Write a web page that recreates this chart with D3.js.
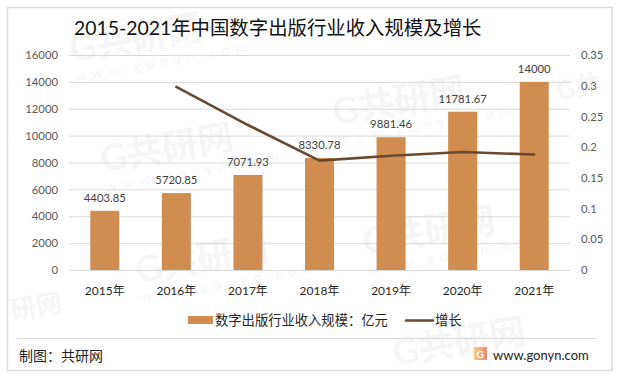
<!DOCTYPE html>
<html>
<head>
<meta charset="utf-8">
<script src="https://cdn.jsdelivr.net/npm/d3@7/dist/d3.min.js"></script>
<style>
html, body { margin: 0; padding: 0; background: #fff; }
svg { display: block; }
text { font-family: Lato, "Noto Sans CJK SC", sans-serif; }
</style>
</head>
<body>
<div id="chart"></div>
<script>
const years = ["2015年", "2016年", "2017年", "2018年", "2019年", "2020年", "2021年"];
const revenue = [4403.85, 5720.85, 7071.93, 8330.78, 9881.46, 11781.67, 14000];
const revenueLabels = ["4403.85", "5720.85", "7071.93", "8330.78", "9881.46", "11781.67", "14000"];
const growth = [null, 0.298, 0.236, 0.178, 0.186, 0.192, 0.188];
const leftTicks = [0, 2000, 4000, 6000, 8000, 10000, 12000, 14000, 16000];
const rightTicks = [0, 0.05, 0.1, 0.15, 0.2, 0.25, 0.3, 0.35];

const barColor = "#d18c4f";
const lineColor = "#69492f";
const gridColor = "#d9d9d9";

const margin = { top: 55, right: 49, bottom: 105, left: 69 },
      width = 619 - margin.left - margin.right,
      height = 375 - margin.top - margin.bottom;

const root = d3.select("#chart")
  .append("svg")
  .attr("width", 619)
  .attr("height", 375);

// outer frame
root.append("rect")
  .attr("x", 7.5).attr("y", 7.5)
  .attr("width", 604.5).attr("height", 363)
  .attr("fill", "#fff")
  .attr("stroke", "#dcdcdc")
  .attr("stroke-width", 1.5);

// watermarks
const marks = [[72, 62, "G共研网"], [103, 172, "G共研网"], [335, 125, "G共研网"], [138, 283, "G共研网"], [365, 255, "G共研网"]];
const wm = root.append("g").attr("fill", "#f5f5f5");
marks.forEach(([mx, my, label]) => {
  const g = wm.append("g").attr("transform", `translate(${mx},${my}) rotate(-10)`);
  g.append("text").attr("font-size", 36).attr("font-weight", 700).text(label);
  g.append("text").attr("y", 20).attr("font-size", 14).attr("letter-spacing", 6).text("www.gonyn.com");
});
// partly hidden marks near the frame
const edgeMarks = [[12, 320, "研网"], [558, 100, "G共"], [395, 366, "G共研网"]];
edgeMarks.forEach(([mx, my, label]) => {
  wm.append("text")
    .attr("transform", `translate(${mx},${my}) rotate(-10)`)
    .attr("font-size", label.length > 2 ? 36 : 26)
    .attr("font-weight", 700)
    .text(label);
});

const svg = root.append("g").attr("transform", `translate(${margin.left},${margin.top})`);

const x = d3.scaleBand().domain(years).range([0, width]);
const y = d3.scaleLinear().domain([0, 16000]).range([height, 0]);
const y2 = d3.scaleLinear().domain([0, 0.35]).range([height, 0]);

// gridlines
svg.append("g")
  .selectAll("line")
  .data(leftTicks)
  .join("line")
  .attr("x1", 0).attr("x2", width)
  .attr("y1", d => y(d) + 0.5).attr("y2", d => y(d) + 0.5)
  .attr("stroke", gridColor);

const yAxis = svg.append("g")
  .call(d3.axisLeft(y).tickValues(leftTicks).tickSize(0).tickPadding(11).tickFormat(d3.format("d")));
yAxis.select(".domain").remove();
yAxis.selectAll("text").attr("font-size", 11.3).attr("fill", "#595959");

const yAxisRight = svg.append("g")
  .attr("transform", `translate(${width},0)`)
  .call(d3.axisRight(y2).tickValues(rightTicks).tickSize(0).tickPadding(11).tickFormat(d => String(d)));
yAxisRight.select(".domain").remove();
yAxisRight.selectAll("text").attr("font-size", 11.3).attr("fill", "#595959");

const xAxis = svg.append("g")
  .attr("transform", `translate(0,${height})`)
  .call(d3.axisBottom(x).tickSize(0).tickPadding(16));
xAxis.select(".domain").remove();
xAxis.selectAll("text").attr("font-size", 12).attr("fill", "#262626");

// bars
svg.selectAll(".bar")
  .data(revenue)
  .join("rect")
  .attr("class", "bar")
  .attr("x", (d, i) => x(years[i]) + x.bandwidth() / 2 - 14.5)
  .attr("width", 29)
  .attr("y", d => y(d))
  .attr("height", d => height - y(d))
  .attr("fill", barColor);

// bar labels
svg.selectAll(".label")
  .data(revenue)
  .join("text")
  .attr("class", "label")
  .attr("x", (d, i) => x(years[i]) + x.bandwidth() / 2)
  .attr("y", d => y(d) - 9)
  .attr("text-anchor", "middle")
  .attr("font-size", 11.3)
  .attr("fill", "#404040")
  .text((d, i) => revenueLabels[i]);

// growth line
const line = d3.line()
  .defined(d => d !== null)
  .x((d, i) => x(years[i]) + x.bandwidth() / 2)
  .y(d => y2(d));

svg.append("path")
  .datum(growth)
  .attr("d", line)
  .attr("fill", "none")
  .attr("stroke", lineColor)
  .attr("stroke-width", 2.6)
  .attr("stroke-linecap", "round")
  .attr("stroke-linejoin", "round");

// title
root.append("text")
  .attr("x", 74).attr("y", 35)
  .attr("font-size", 19.4)
  .attr("fill", "#111")
  .text("2015-2021年中国数字出版行业收入规模及增长");

// legend
root.append("rect")
  .attr("x", 188).attr("y", 316)
  .attr("width", 25).attr("height", 8)
  .attr("fill", barColor);
root.append("text")
  .attr("x", 215).attr("y", 325)
  .attr("font-size", 13.3)
  .attr("fill", "#262626")
  .text("数字出版行业收入规模：亿元");
root.append("line")
  .attr("x1", 406).attr("x2", 433)
  .attr("y1", 320.5).attr("y2", 320.5)
  .attr("stroke", lineColor)
  .attr("stroke-width", 2.6)
  .attr("stroke-linecap", "round");
root.append("text")
  .attr("x", 435).attr("y", 325)
  .attr("font-size", 13.3)
  .attr("fill", "#262626")
  .text("增长");

// footer
root.append("line")
  .attr("x1", 17).attr("x2", 596)
  .attr("y1", 338.5).attr("y2", 338.5)
  .attr("stroke", "#d9d9d9");
root.append("text")
  .attr("x", 19).attr("y", 361)
  .attr("font-size", 14)
  .attr("fill", "#222")
  .text("制图：共研网");

const defs = root.append("defs");
const grad = defs.append("linearGradient").attr("id", "logoGrad");
grad.append("stop").attr("offset", "0").attr("stop-color", "#f7c98a");
grad.append("stop").attr("offset", "1").attr("stop-color", "#f08a6a");
root.append("rect")
  .attr("x", 474).attr("y", 347)
  .attr("width", 13).attr("height", 13)
  .attr("fill", "url(#logoGrad)");
root.append("text")
  .attr("x", 476.5).attr("y", 357.5)
  .attr("font-size", 10)
  .attr("font-weight", 700)
  .attr("fill", "#fff")
  .text("G");
root.append("text")
  .attr("x", 493).attr("y", 359.5)
  .attr("font-size", 13)
  .attr("fill", "#222")
  .text("www.gonyn.com");
</script>
</body>
</html>
